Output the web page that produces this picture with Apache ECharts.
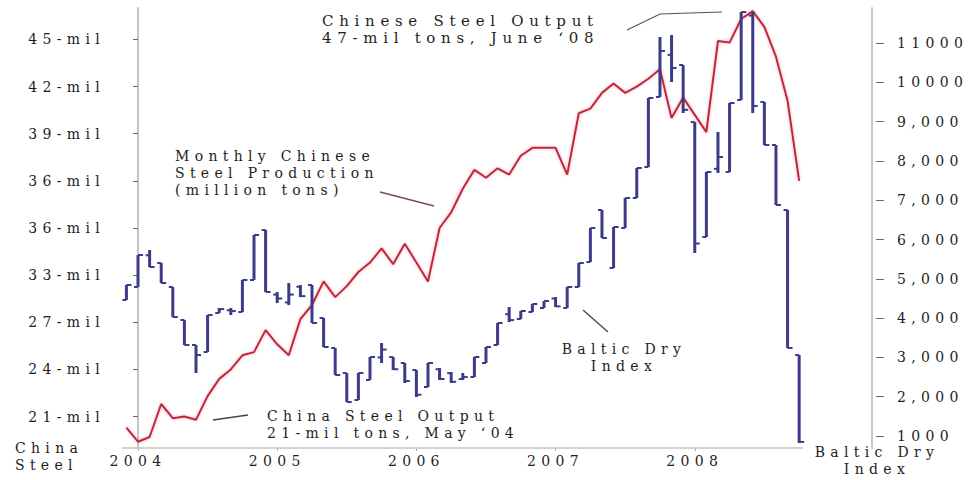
<!DOCTYPE html>
<html>
<head>
<meta charset="utf-8">
<script src="https://cdn.jsdelivr.net/npm/echarts@6/dist/echarts.min.js"></script>
<style>
  html, body { margin: 0; padding: 0; background: #ffffff; }
  #chart { width: 969px; height: 480px; }
  #chart text { letter-spacing: 0.38em; }
</style>
</head>
<body>
<div id="chart"></div>
<script>
// ---- Data ----
const months = [
  '2003-12',
  '2004-01','2004-02','2004-03','2004-04','2004-05','2004-06','2004-07','2004-08','2004-09','2004-10','2004-11','2004-12',
  '2005-01','2005-02','2005-03','2005-04','2005-05','2005-06','2005-07','2005-08','2005-09','2005-10','2005-11','2005-12',
  '2006-01','2006-02','2006-03','2006-04','2006-05','2006-06','2006-07','2006-08','2006-09','2006-10','2006-11','2006-12',
  '2007-01','2007-02','2007-03','2007-04','2007-05','2007-06','2007-07','2007-08','2007-09','2007-10','2007-11','2007-12',
  '2008-01','2008-02','2008-03','2008-04','2008-05','2008-06','2008-07','2008-08','2008-09','2008-10'
];
// Monthly Chinese steel production (million tons)
const steelOutput = [
  20.3,
  19.4, 19.7, 21.8, 20.9, 21.0, 20.8, 22.3, 23.4, 24.0, 24.9, 25.1, 26.5,
  25.6, 24.9, 27.2, 28.1, 29.6, 28.6, 29.3, 30.2, 30.8, 31.7, 30.7, 32.0,
  30.8, 29.6, 33.0, 34.0, 35.5, 36.7, 36.2, 36.8, 36.4, 37.6, 38.1, 38.1,
  38.1, 36.4, 40.3, 40.6, 41.6, 42.2, 41.6, 42.0, 42.5, 43.1, 40.0, 41.3,
  40.2, 39.1, 44.9, 44.8, 46.3, 46.8, 45.8, 43.9, 41.1, 36.0
];
// Baltic Dry Index monthly bars
const bdiOpen = [
  4461,
  4792, 5600, 5403, 4792, 3952, 3316, 3138, 4130, 4200, 4156, 4970, 6243,
  4600, 4400, 4800, 4843, 4003, 3240, 2603, 1916, 2425, 3000, 3011, 2858,
  2680, 2247, 2700, 2600, 2450, 2502, 2858, 3316, 4100, 3978, 4156, 4258,
  4500, 4258, 4792, 5428, 6752, 5276, 6294, 7057, 7846, 9628, 10700, 10442,
  8991, 6065, 7800, 7719, 9551, 11700, 9500, 8406, 6752, 3061
];
const bdiClose = [
  4843,
  5606, 5301, 4894, 4028, 3316, 3060, 4079, 4230, 4180, 4970, 6115, 4665,
  4500, 4600, 4560, 3876, 3265, 2552, 1865, 2603, 3011, 3200, 2700, 2400,
  2050, 2858, 2450, 2380, 2500, 3011, 3265, 3876, 3950, 4181, 4360, 4436,
  4300, 4792, 5403, 6294, 6039, 6319, 7057, 7821, 9602, 10800, 10366, 9300,
  5900, 7719, 8100, 9475, 11791, 9400, 8406, 6879, 3240, 850
];
const bdiLow = [
  4461,
  4792, 5301, 4894, 4028, 3316, 2603, 3138, 4130, 4079, 4156, 4970, 4665,
  4385, 4334, 4538, 3876, 3265, 2552, 1865, 1916, 2425, 2858, 2680, 2349,
  1993, 2247, 2425, 2349, 2425, 2502, 2858, 3316, 3901, 3978, 4156, 4258,
  4283, 4258, 4792, 5428, 6039, 5276, 6294, 7057, 7846, 9628, 10009, 9220,
  5657, 6065, 7693, 7719, 9551, 9220, 8406, 6879, 3240, 822
];
const bdiHigh = [
  4843,
  5606, 5734, 5403, 4792, 3952, 3316, 4079, 4258, 4258, 4970, 6115, 6243,
  4665, 4894, 4843, 4843, 4003, 3240, 2603, 2603, 3011, 3367, 3011, 2858,
  2680, 2858, 2731, 2629, 2603, 3011, 3265, 3876, 4283, 4181, 4360, 4436,
  4538, 4792, 5403, 6294, 6752, 6319, 7057, 7821, 9602, 11155, 11205, 10442,
  8991, 7719, 8737, 9475, 11791, 11791, 9500, 8406, 6752, 3061
];
const yearTickValues = [0, 12, 24, 36, 48];
const yearLabels = ['2004', '2005', '2006', '2007', '2008'];
const leftTickValues = [21, 24, 27, 30, 33, 36, 39, 42, 45];
const leftTickLabels = ['21-mil', '24-mil', '27-mil', '33-mil', '36-mil', '36-mil', '39-mil', '42-mil', '45-mil'];
const rightTickValues = [1000, 2000, 3000, 4000, 5000, 6000, 7000, 8000, 9000, 10000, 11000];
const rightTickLabels = ['1000', '2,000', '3,000', '4,000', '5,000', '6,000', '7,000', '8,000', '9,000', '10000', '11000'];

// ---- Build ----
const FONT = 'DejaVu Serif';
const TXT = '#1e1e1e';
function monthIndex(s) {
  return (parseInt(s.slice(0, 4), 10) - 2004) * 12 + parseInt(s.slice(5, 7), 10) - 1;
}
const steelData = months.map((m, i) => [monthIndex(m), steelOutput[i]]);
const bdiData = months.map((m, i) => [monthIndex(m), bdiOpen[i], bdiClose[i], bdiLow[i], bdiHigh[i]]);

const chart = echarts.init(document.getElementById('chart'), null, { renderer: 'svg' });

const BAR_COLOR = '#3b3b88';
function renderBar(params, api) {
  const x = api.value(0);
  const pO = api.coord([x, api.value(1)]);
  const pC = api.coord([x, api.value(2)]);
  const pL = api.coord([x, api.value(3)]);
  const pH = api.coord([x, api.value(4)]);
  const st = { stroke: BAR_COLOR, lineWidth: 3 };
  const st2 = { stroke: BAR_COLOR, lineWidth: 2 };
  return {
    type: 'group',
    children: [
      { type: 'line', shape: { x1: pH[0], y1: pH[1], x2: pL[0], y2: pL[1] }, style: st },
      { type: 'line', shape: { x1: pO[0] - 4, y1: pO[1], x2: pO[0], y2: pO[1] }, style: st2 },
      { type: 'line', shape: { x1: pC[0], y1: pC[1], x2: pC[0] + 5, y2: pC[1] }, style: st2 }
    ]
  };
}

const option = {
  backgroundColor: '#ffffff',
  animation: false,
  grid: { left: 122, right: 97, top: 8, bottom: 32, containLabel: false },
  xAxis: {
    type: 'value',
    min: -1.38,
    max: 63.28,
    axisLine: { show: false },
    splitLine: { show: false },
    axisTick: { show: true, length: 3, customValues: yearTickValues, lineStyle: { color: '#aaaaaa' } },
    axisLabel: {
      customValues: yearTickValues,
      formatter: v => yearLabels[yearTickValues.indexOf(v)],
      fontFamily: FONT, fontSize: 14, color: TXT, margin: 6
    }
  },
  yAxis: [
    {
      type: 'value', position: 'left', min: 19, max: 47,
      axisLine: { show: true, lineStyle: { color: '#c4c4c4', width: 2 } },
      axisTick: { show: true, length: 5, customValues: leftTickValues, lineStyle: { color: '#666666' } },
      splitLine: { show: false },
      axisLabel: {
        customValues: leftTickValues,
        formatter: v => leftTickLabels[leftTickValues.indexOf(v)],
        fontFamily: FONT, fontSize: 14, color: TXT, margin: 17
      }
    },
    {
      type: 'value', position: 'right', min: 695, max: 11893,
      axisLine: { show: true, lineStyle: { color: '#c8c8c8', width: 2 } },
      axisTick: { show: false },
      axisLabel: { show: false },
      splitLine: { show: false }
    },
    {
      type: 'value', position: 'right', offset: 4, min: 695, max: 11893,
      axisLine: { show: false },
      axisTick: { show: true, length: 8, customValues: rightTickValues, lineStyle: { color: '#666666' } },
      splitLine: { show: false },
      axisLabel: {
        customValues: rightTickValues,
        formatter: v => rightTickLabels[rightTickValues.indexOf(v)],
        fontFamily: FONT, fontSize: 14, color: TXT, margin: 21
      }
    }
  ],
  series: [
    {
      type: 'line',
      name: 'Monthly Chinese Steel Production',
      data: steelData,
      yAxisIndex: 0,
      showSymbol: false,
      symbol: 'none',
      z: 2,
      lineStyle: { color: '#c0283a', width: 2, shadowColor: 'rgba(235,130,150,0.7)', shadowBlur: 3 }
    },
    {
      type: 'custom',
      name: 'Baltic Dry Index',
      data: bdiData,
      yAxisIndex: 1,
      encode: { x: 0, y: [1, 2, 3, 4] },
      renderItem: renderBar,
      z: 3
    }
  ],
  graphic: [
    { type: 'line', shape: { x1: 122, y1: 448, x2: 803, y2: 448 }, style: { stroke: '#c4c4c4', lineWidth: 1.5 }, z: 1 },
    { type: 'text', left: 322, top: 12, style: { text: 'Chinese Steel Output\n47-mil tons, June \u201808', font: '15px "DejaVu Serif"', fill: TXT, lineHeight: 17.6 } },
    { type: 'polyline', shape: { points: [[627, 30], [660, 14], [722, 12]] }, style: { stroke: '#555555', lineWidth: 1.2, fill: null } },
    { type: 'text', left: 175, top: 147, style: { text: 'Monthly Chinese\nSteel Production\n(million tons)', font: '14px "DejaVu Serif"', fill: TXT, lineHeight: 17 } },
    { type: 'line', shape: { x1: 380, y1: 192, x2: 434, y2: 206 }, style: { stroke: '#7a4a55', lineWidth: 1.3 } },
    { type: 'text', left: 267, top: 407, style: { text: 'China Steel Output\n21-mil tons, May \u201804', font: '14px "DejaVu Serif"', fill: TXT, lineHeight: 17 } },
    { type: 'line', shape: { x1: 213, y1: 420, x2: 248, y2: 415 }, style: { stroke: '#444444', lineWidth: 1.3 } },
    { type: 'text', x: 624, y: 340, style: { text: 'Baltic Dry\nIndex', font: '14px "DejaVu Serif"', fill: TXT, lineHeight: 17, textAlign: 'center' } },
    { type: 'line', shape: { x1: 583, y1: 310, x2: 608, y2: 332 }, style: { stroke: '#444444', lineWidth: 1.3 } },
    { type: 'text', x: 877, y: 444, style: { text: 'Baltic Dry\nIndex', font: '14px "DejaVu Serif"', fill: TXT, lineHeight: 16.5, textAlign: 'center' } },
    { type: 'text', left: 15, top: 440, style: { text: 'China\nSteel', font: '14px "DejaVu Serif"', fill: TXT, lineHeight: 16.5 } }
  ]
};
chart.setOption(option);
</script>
</body>
</html>
